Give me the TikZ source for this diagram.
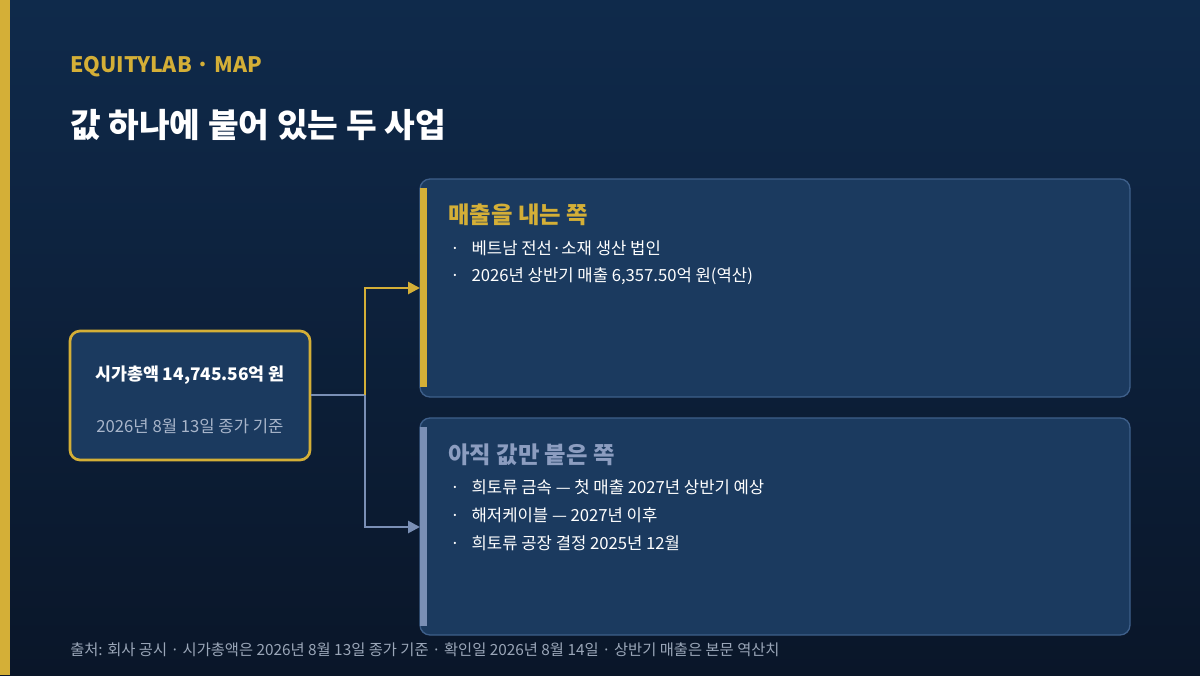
\documentclass[tikz,border=0pt]{standalone}
\usepackage{fontspec}
\setmainfont{Noto Sans CJK KR}
\usetikzlibrary{arrows.meta}
\definecolor{bgtop}{HTML}{0F2A4B}
\definecolor{bgbot}{HTML}{0A1629}
\definecolor{gold}{HTML}{D4AF37}
\definecolor{card}{HTML}{1B3A5F}
\definecolor{cardline}{HTML}{3E5F8A}
\definecolor{slate}{HTML}{7A8FB5}
\definecolor{slatetxt}{HTML}{8C9DC0}
\definecolor{subtxt}{HTML}{A8B5CA}
\definecolor{foot}{HTML}{9AA6B8}
\begin{document}
\begin{tikzpicture}[x=0.75pt,y=-0.75pt,
  txt/.style={anchor=west,inner sep=0pt,font=\fontsize{12.5}{14}\selectfont,text=white},
  card/.style={draw=cardline,line width=1pt,fill=card,rounded corners=7.5pt},
  conn/.style={line width=2pt,-{Triangle[length=9pt,width=9pt]}}]
\useasboundingbox (0,0) rectangle (1200,675);
\shade[top color=bgtop,bottom color=bgbot] (0,0) rectangle (1200,675);
\fill[gold] (0,0) rectangle (10,675);
\node[anchor=west,inner sep=0pt,text=gold,font=\fontsize{16}{18}\selectfont\bfseries] (brand) at (70,67) {EQUITYLAB · MAP};
\node[anchor=west,inner sep=0pt,text=white,font=\fontsize{25}{28}\selectfont\bfseries] (title) at (70,125) {값 하나에 붙어 있는 두 사업};
% left box
\node[draw=gold,line width=2pt,fill=card,rounded corners=7.5pt,minimum width=240*0.75pt,minimum height=129*0.75pt,inner sep=0pt] (cap) at (190,395.5) {};
\node[inner sep=0pt,text=white,font=\fontsize{13}{15}\selectfont\bfseries] (capt) at (190,375) {시가총액 14,745.56억 원};
\node[inner sep=0pt,text=subtxt,font=\fontsize{12.5}{14}\selectfont] (caps) at (190,426) {2026년 8월 13일 종가 기준};
% cards
\draw[card] (420,179) rectangle (1130,397);
\fill[gold] (420,188) rectangle (427,387);
\draw[card] (420,418) rectangle (1130,635);
\fill[slate] (420,427) rectangle (427,626);
\coordinate (c1) at (420,288);
\coordinate (c2) at (420,527);
\coordinate (j) at (365,395);
\draw[slate,line width=2pt] (cap.east |- j) -- (j);
\draw[conn,gold] (j) |- (c1);
\draw[conn,slate] (j) |- (c2);
\node[anchor=west,inner sep=0pt,text=gold,font=\fontsize{17.5}{20}\selectfont\bfseries] (h1) at (448,215) {매출을 내는 쪽};
\node[txt] (a1) at (450,248) {·\hspace{9pt}베트남 전선·소재 생산 법인};
\node[txt] (a2) at (450,276) {·\hspace{9pt}2026년 상반기 매출 6,357.50억 원(역산)};
\node[anchor=west,inner sep=0pt,text=slatetxt,font=\fontsize{17.5}{20}\selectfont\bfseries] (h2) at (448,455) {아직 값만 붙은 쪽};
\node[txt] (b1) at (450,487) {·\hspace{9pt}희토류 금속 — 첫 매출 2027년 상반기 예상};
\node[txt] (b2) at (450,515) {·\hspace{9pt}해저케이블 — 2027년 이후};
\node[txt] (b3) at (450,543) {·\hspace{9pt}희토류 공장 결정 2025년 12월};
\node[anchor=west,inner sep=0pt,text=foot,font=\fontsize{11.5}{13}\selectfont] (src) at (70,650) {출처: 회사 공시 · 시가총액은 2026년 8월 13일 종가 기준 · 확인일 2026년 8월 14일 · 상반기 매출은 본문 역산치};
\end{tikzpicture}
\end{document}
